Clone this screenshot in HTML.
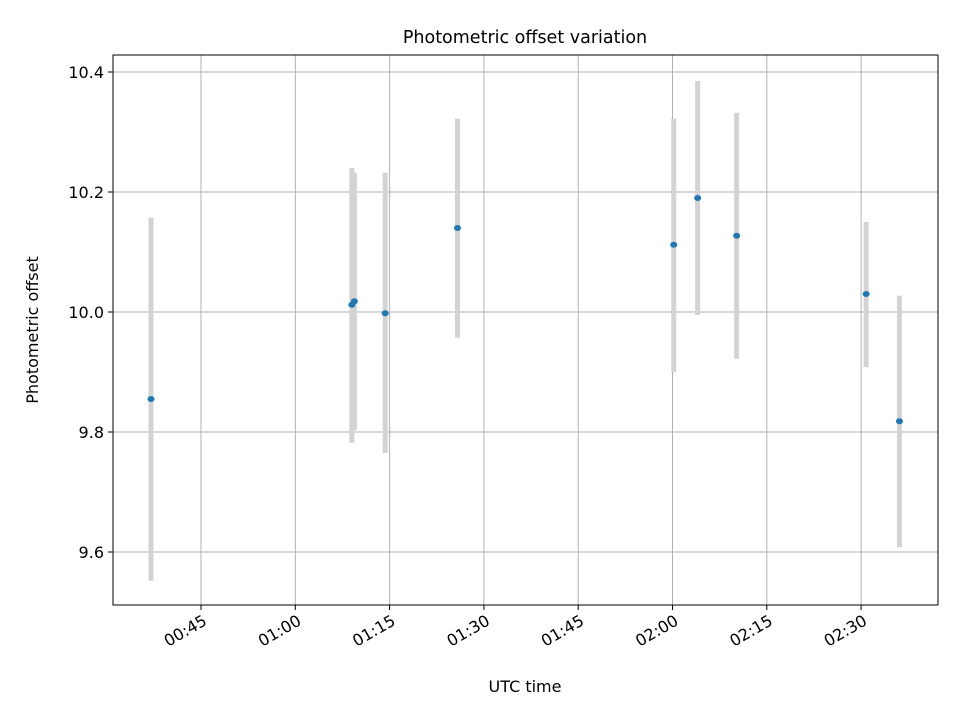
<!DOCTYPE html>
<html><head><meta charset="utf-8"><style>
body{margin:0;background:#fff;font-family:"DejaVu Sans","Liberation Sans",sans-serif}
svg text{font-family:"DejaVu Sans","Liberation Sans",sans-serif}
</style></head><body>
<svg id="chart" width="960" height="720" xmlns="http://www.w3.org/2000/svg">
<rect width="960" height="720" fill="#fff"/>
<g id="grid"></g><g id="marks"></g><g id="axes"></g>
<text x="525" y="43" text-anchor="middle" style="font-size:17.5px">Photometric offset variation</text>
<text x="525" y="692" text-anchor="middle" style="font-size:16px">UTC time</text>
<text transform="translate(38,330) rotate(-90)" text-anchor="middle" style="font-size:16px">Photometric offset</text>
</svg>
<script>
const times=[37.05,69.0,69.4,74.3,85.8,120.2,124.0,130.2,150.8,156.1];
const values=[9.855,10.012,10.018,9.998,10.14,10.112,10.19,10.127,10.03,9.818];
const errLow=[9.552,9.782,9.803,9.765,9.957,9.900,9.995,9.922,9.908,9.608];
const errHigh=[10.157,10.240,10.232,10.232,10.322,10.322,10.385,10.332,10.150,10.027];
const xTicks=[45,60,75,90,105,120,135,150];
const xTickLabels=["00:45","01:00","01:15","01:30","01:45","02:00","02:15","02:30"];
const yTicks=[9.6,9.8,10.0,10.2,10.4];
const yTickLabels=["9.6","9.8","10.0","10.2","10.4"];
const L=113,R=938,T=55,B=605;
const xs=m=>201+(m-45)*(94.3/15);
const ys=v=>312-(v-10)*600;
const NS="http://www.w3.org/2000/svg";
function mk(p,tag,a){const e=document.createElementNS(NS,tag);for(const k in a)e.setAttribute(k,a[k]);p.appendChild(e);return e;}
const grid=document.getElementById('grid'),marks=document.getElementById('marks'),axes=document.getElementById('axes');
xTicks.forEach((t,i)=>{const x=xs(t);
 const g=mk(grid,'line',{x1:x,x2:x,y1:T,y2:B,stroke:'#b0b0b0','stroke-width':1});
 
 
 mk(axes,'line',{x1:x,x2:x,y1:B,y2:B+5,stroke:'#000'});
 const tx=mk(axes,'text',{x:x+3,y:B+20,'text-anchor':'end',style:'font-size:16px',transform:`rotate(-30 ${x+3} ${B+12})`});
 tx.textContent=xTickLabels[i];
 
 
});
yTicks.forEach((t,i)=>{const y=ys(t);
 const g=mk(grid,'line',{x1:L,x2:R,y1:y,y2:y,stroke:'#b0b0b0','stroke-width':1});
 
 
 mk(axes,'line',{x1:L-5,x2:L,y1:y,y2:y,stroke:'#000'});
 const tx=mk(axes,'text',{x:L-9,y:y+6,'text-anchor':'end',style:'font-size:16px'});
 tx.textContent=yTickLabels[i];
 
 
});
const frame=mk(axes,'rect',{x:L,y:T,width:R-L,height:B-T,fill:'none',stroke:'#000','stroke-width':1});


times.forEach((t,i)=>{const x=xs(t);
 const eb=mk(marks,'line',{x1:x,x2:x,y1:ys(errLow[i]),y2:ys(errHigh[i]),stroke:'#d3d3d3','stroke-width':5});
 
 
});
times.forEach((t,i)=>{
 const c=mk(marks,'ellipse',{cx:xs(t),cy:ys(values[i]),rx:3.5,ry:3,fill:'#1f77b4'});
 
 
});
</script>
</body></html>
